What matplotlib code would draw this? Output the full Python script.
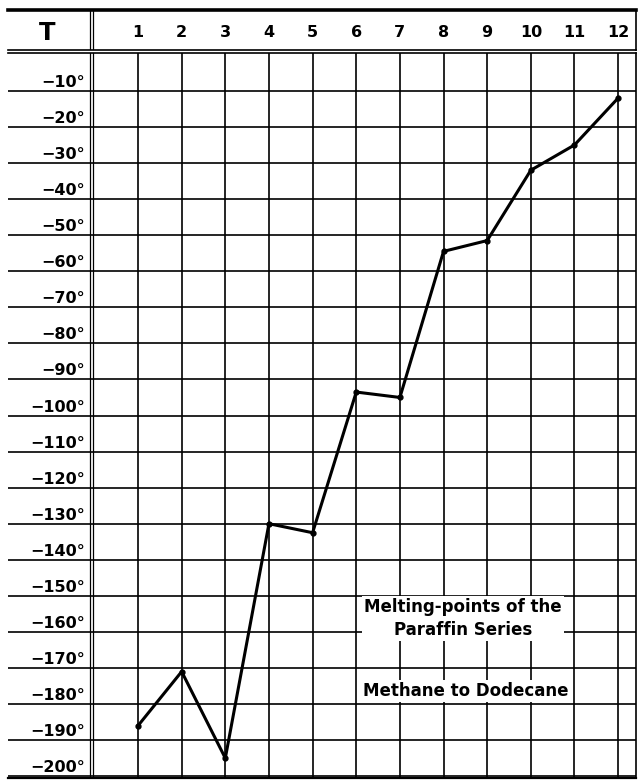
import matplotlib.pyplot as plt
import matplotlib.transforms as mtransforms

# carbon atoms (methane .. dodecane) and melting points in deg C
carbons = [1, 2, 3, 4, 5, 6, 7, 8, 9, 10, 11, 12]
melting = [-186, -171, -195, -130, -132.5, -93.5, -95, -54.5, -51.5, -32, -25, -12]
temps = list(range(-10, -201, -10))
temp_labels = ["\u2212%d\u00b0" % (-t) for t in temps]

plt.rcParams['font.family'] = ['DejaVu Sans']
plt.rcParams['font.weight'] = 'bold'

fig = plt.figure(figsize=(6.38, 7.80), dpi=100)

# main grid area and header row
ax = fig.add_axes([8 / 638, 2 / 780, 628 / 638, 725 / 780])
head = fig.add_axes([8 / 638, 730 / 780, 628 / 638, 40 / 780], sharex=ax)

ax.set_xlim(-1.979, 12.41)
ax.set_ylim(-200.5, 0.5)
ax.set_xticks(carbons)
ax.set_yticks(temps)
ax.tick_params(left=False, bottom=False, labelleft=False, labelbottom=False)
ax.grid(True, color='black', lw=1.2)
ax.set_axisbelow(True)
ax.spines['left'].set_visible(False)
ax.spines['right'].set_linewidth(1.2)
ax.spines['top'].set_linewidth(1.2)
ax.spines['bottom'].set_linewidth(1.6)

head.set_ylim(0, 1)
head.tick_params(left=False, bottom=False, top=False, labelleft=False, labelbottom=False)
head.spines['left'].set_visible(False)
head.spines['top'].set_linewidth(2.6)
head.spines['bottom'].set_linewidth(1.2)
head.spines['right'].set_linewidth(1.2)

# double rule separating the temperature column
for a in (ax, head):
    a.axvline(-0.10, color='black', lw=0.9)
    a.axvline(-0.03, color='black', lw=0.9)

head.text(-1.08, 0.42, "T", ha='center', va='center', fontsize=17.5, fontweight='bold')
for c in carbons:
    head.text(c, 0.43, str(c), ha='center', va='center', fontsize=11.5, fontweight='bold')

lab_tr = mtransforms.offset_copy(ax.transData, fig=fig, x=0, y=4, units='dots')
for t, lab in zip(temps, temp_labels):
    ax.text(-0.22, t, lab, ha='right', va='baseline', fontsize=11.5, fontweight='bold',
            transform=lab_tr)

ax.plot(carbons, melting, color='black', lw=2.2, marker='o', markersize=3.5, zorder=3)

ax.text(8.45, -156.2, "Melting-points of the\nParaffin Series", ha='center', va='center',
        fontsize=12, fontweight='bold', linespacing=1.35, zorder=4,
        bbox=dict(boxstyle='square,pad=0.12', fc='white', ec='none'))
ax.text(8.5, -176.4, "Methane to Dodecane", ha='center', va='center',
        fontsize=12, fontweight='bold', zorder=4,
        bbox=dict(boxstyle='square,pad=0.12', fc='white', ec='none'))

fig.savefig("out.png", dpi=100)
